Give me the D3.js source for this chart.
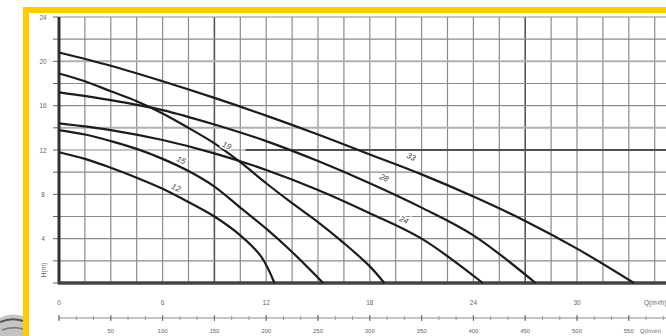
<!DOCTYPE html>
<html><head><meta charset="utf-8">
<script src="https://cdn.jsdelivr.net/npm/d3@7"></script>
<style>html,body{margin:0;padding:0;background:#fff;} svg{display:block}</style>
</head><body>
<svg id="c" width="666" height="336"></svg>
<script>
// ---- data (Q in l/min, H in m) ----
const q12 = [0,25,50,75,100,125,150,175,195,208];
const h12 = [11.8,11.2,10.4,9.5,8.5,7.3,6.0,4.3,2.4,0];
const q15 = [0,25,50,75,100,125,150,175,200,225,255];
const h15 = [13.8,13.4,12.8,12.1,11.2,10.1,8.7,6.8,4.9,2.8,0];
const q19 = [0,25,50,75,100,125,150,175,200,225,250,275,300,314];
const h19 = [18.9,18.2,17.3,16.4,15.3,14.0,12.6,10.9,9.0,7.2,5.5,3.6,1.5,0];
const q24 = [0,50,100,150,200,250,300,350,409];
const h24 = [14.4,13.8,12.9,11.7,10.2,8.4,6.3,4.0,0];
const q28 = [0,50,100,150,200,250,300,350,400,460];
const h28 = [17.2,16.5,15.6,14.3,12.8,11.0,9.0,6.8,4.3,0];
const q33 = [0,50,100,150,200,250,300,350,400,450,500,555];
const h33 = [20.8,19.6,18.2,16.7,15.1,13.4,11.6,9.8,7.8,5.6,3.1,0];

const curveNames = ["12","15","19","24","28","33"];
const curveQ = [q12,q15,q19,q24,q28,q33];
const curveH = [h12,h15,h19,h24,h28,h33];
// label anchor positions (Q l/min, H m)
const labelQ = [113,118,162,333,314,340];
const labelH = [8.6,11.1,12.4,5.7,9.5,11.4];

const yTickLabels = [4,8,12,16,20,24];
const m3hTicks = [0,6,12,18,24,30];          // m³/h
const lminTicks = [50,100,150,200,250,300,350,400,450,500,550];

// ---- drawing ----
const W=666, Hh=336;
const svg = d3.select("#c");
const x = d3.scaleLinear().domain([0,600]).range([59,680.6]);
const y = d3.scaleLinear().domain([0,24]).range([283,17]);

svg.append("rect").attr("width",W).attr("height",Hh).attr("fill","#fff");

// pump image fragment bottom-left
const frag = svg.append("g");
frag.append("path").attr("d","M0,318 Q10,312 23,316 L23,336 L0,336 Z").attr("fill","#c4c4c4");
frag.append("path").attr("d","M0,322 Q12,317 23,321").attr("stroke","#555").attr("stroke-width",2).attr("fill","none");
frag.append("path").attr("d","M2,330 Q12,326 23,329").attr("stroke","#777").attr("stroke-width",1.5).attr("fill","none");

// yellow frame
svg.append("rect").attr("x",23).attr("y",7).attr("width",6).attr("height",329).attr("fill","#FFCC00");
svg.append("rect").attr("x",23).attr("y",7).attr("width",643).attr("height",6).attr("fill","#FFCC00");

const g = svg.append("g");

// grid
const vq = d3.range(0,601,25);
g.selectAll(".vg").data(vq).join("line")
  .attr("x1",d=>x(d)).attr("x2",d=>x(d)).attr("y1",y(24)).attr("y2",y(0))
  .attr("stroke",d=>(d===150||d===450)?"#555":"#8a8a8a")
  .attr("stroke-width",d=>(d===150||d===450)?1.6:1.2);
const hv = d3.range(0,24.01,2);
g.selectAll(".hg").data(hv).join("line")
  .attr("x1",x(0)).attr("x2",W).attr("y1",d=>y(d)).attr("y2",d=>y(d))
  .attr("stroke",d=>(d===20||d===14?"#b0b0b0":"#8a8a8a"))
  .attr("stroke-width",d=>(d===20||d===14?2:1.2));
// darker H=12 reference line on the right
g.append("line").attr("x1",x(180)).attr("x2",W).attr("y1",y(12)).attr("y2",y(12))
  .attr("stroke","#505050").attr("stroke-width",1.8);

// left ticks
g.selectAll(".lt").data(hv).join("line")
  .attr("x1",x(0)-6).attr("x2",x(0)).attr("y1",d=>y(d)).attr("y2",d=>y(d))
  .attr("stroke","#666").attr("stroke-width",1);

// axes
g.append("line").attr("x1",x(0)).attr("x2",x(0)).attr("y1",y(24)).attr("y2",y(0)+1)
  .attr("stroke","#333").attr("stroke-width",3);
g.append("line").attr("x1",x(0)-1).attr("x2",W).attr("y1",y(0)).attr("y2",y(0))
  .attr("stroke","#444").attr("stroke-width",3.5);

// y labels
const tf = "Liberation Sans, Arial, sans-serif";
g.selectAll(".yl").data(yTickLabels).join("text")
  .attr("x",43).attr("y",d=>y(d)+2.5).attr("text-anchor","middle")
  .attr("font-family",tf).attr("font-size",6.5).attr("fill","#666").text(d=>d);
g.append("text").attr("transform",`translate(46,${270}) rotate(-90)`)
  .attr("text-anchor","middle").attr("font-family",tf).attr("font-size",6.5).attr("fill","#666").text("H(m)");

// upper x labels (m³/h)
g.selectAll(".xm").data(m3hTicks).join("text")
  .attr("x",d=>x(d*1000/60)).attr("y",305).attr("text-anchor","middle")
  .attr("font-family",tf).attr("font-size",6.5).attr("fill","#666").text(d=>d);
g.append("text").attr("x",644).attr("y",305).attr("font-family",tf).attr("font-size",6.5)
  .attr("fill","#666").text("Q(m³/h)");

// lower l/min axis
g.append("line").attr("x1",x(0)).attr("x2",W).attr("y1",318).attr("y2",318)
  .attr("stroke","#888").attr("stroke-width",1);
g.selectAll(".mt").data(d3.range(0,37,1)).join("line")
  .attr("x1",d=>x(d*1000/60)).attr("x2",d=>x(d*1000/60)).attr("y1",316).attr("y2",320)
  .attr("stroke","#888").attr("stroke-width",0.8);
g.selectAll(".lmt").data([0].concat(lminTicks)).join("line")
  .attr("x1",d=>x(d)).attr("x2",d=>x(d)).attr("y1",315).attr("y2",321)
  .attr("stroke","#666").attr("stroke-width",1);
g.selectAll(".lml").data(lminTicks).join("text")
  .attr("x",d=>x(d)).attr("y",333).attr("text-anchor","middle")
  .attr("font-family",tf).attr("font-size",6).attr("fill","#666").text(d=>d);
g.append("text").attr("x",640).attr("y",333).attr("font-family",tf).attr("font-size",6)
  .attr("fill","#666").text("Q(l/min)");

// curves
const line = d3.line().x(d=>x(d[0])).y(d=>y(d[1])).curve(d3.curveCatmullRom.alpha(0.5));
curveQ.forEach((qs,i)=>{
  const pts = qs.map((q,j)=>[q,curveH[i][j]]);
  g.append("path").attr("d",line(pts)).attr("fill","none")
    .attr("stroke","#1c1c1c").attr("stroke-width",2.2);
});

// curve labels
curveNames.forEach((n,i)=>{
  g.append("text")
    .attr("transform",`translate(${x(labelQ[i])},${y(labelH[i])}) rotate(25)`)
    .attr("text-anchor","middle").attr("dy","0.35em")
    .attr("font-family",tf).attr("font-style","italic").attr("font-size",8)
    .attr("fill","#444").attr("stroke","#fff").attr("stroke-width",3)
    .attr("paint-order","stroke").text(n);
});
</script>
</body></html>
